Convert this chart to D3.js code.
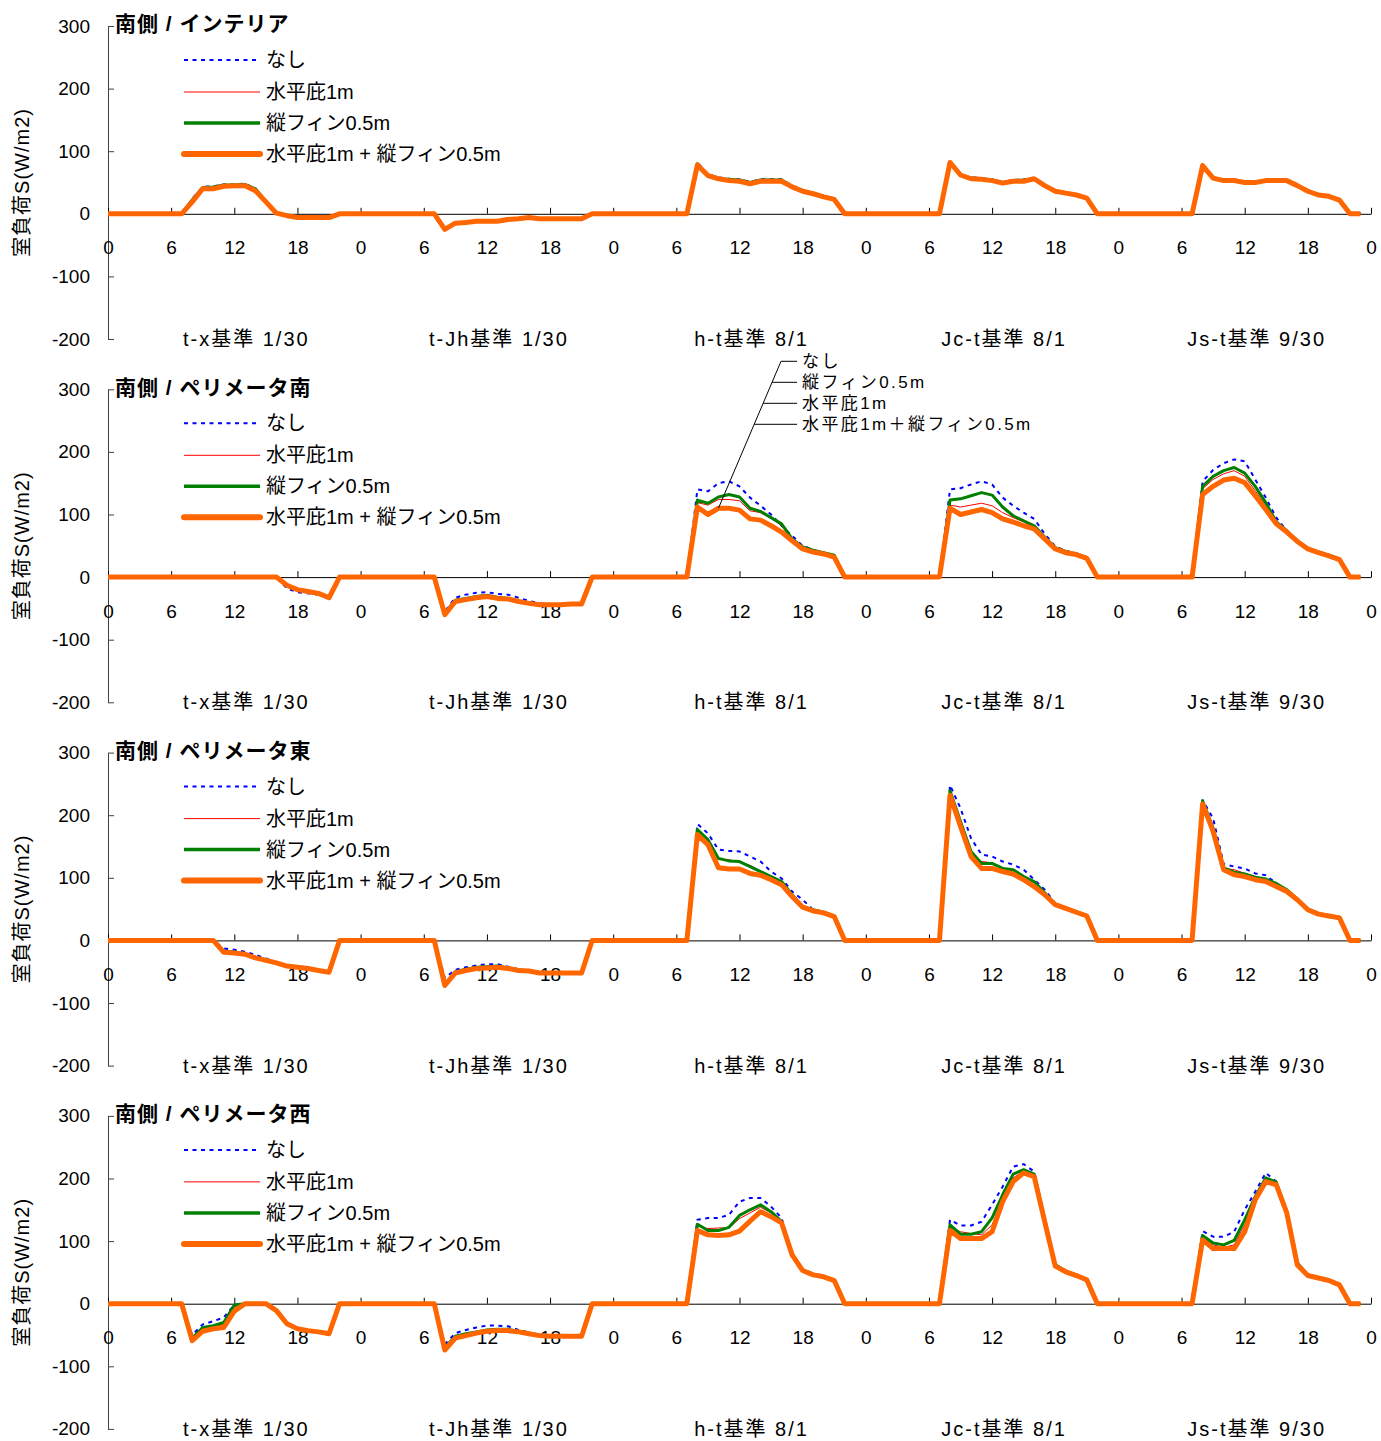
<!DOCTYPE html>
<html>
<head>
<meta charset="utf-8">
<script src="https://cdn.jsdelivr.net/npm/d3@7"></script>
<style>
  body { margin: 0; background: #fff; }
  svg { display: block; }
</style>
</head>
<body>
<svg id="chart" width="1381" height="1441"></svg>
<script>
// hourly values, 5 days x 24 h = 120 points per series
const dayLabels = ["t-x基準 1/30", "t-Jh基準 1/30", "h-t基準 8/1", "Jc-t基準 8/1", "Js-t基準 9/30"];
const yTicks = [300, 200, 100, 0, -100, -200];
const xTicks = [0, 6, 12, 18, 24, 30, 36, 42, 48, 54, 60, 66, 72, 78, 84, 90, 96, 102, 108, 114, 120];
const seriesNames = ["なし", "水平庇1m", "縦フィン0.5m", "水平庇1m + 縦フィン0.5m"];
const calloutNames = ["なし", "縦フィン0.5m", "水平庇1m", "水平庇1m＋縦フィン0.5m"];
const panelTitles = ["南側 / インテリア", "南側 / ペリメータ南", "南側 / ペリメータ東", "南側 / ペリメータ西"];

// 南側 / インテリア
const intNone = [
  0,0,0,0,0,0,0,0,24,43,44,47,47,48,41,20,1,-3,-6,-6,-6,-6,0,0,
  0,0,0,0,0,0,0,0,-24,-14,-13,-11,-11,-11,-7,-7,-5,-7,-7,-7,-7,-7,0,0,
  0,0,0,0,0,0,0,0,82,63,58,56,55,51,55,55,55,45,38,33,28,24,0,0,
  0,0,0,0,0,0,0,0,83,63,58,57,55,51,54,55,57,46,37,34,31,26,0,0,
  0,0,0,0,0,0,0,0,79,58,55,55,52,51,54,54,54,46,37,31,29,23,0,0];
const intEave = [
  0,0,0,0,0,0,0,0,21,41,42,45,46,47,39,20,1,-3,-6,-6,-6,-6,0,0,
  0,0,0,0,0,0,0,0,-25,-15,-14,-12,-12,-12,-8,-8,-6,-8,-8,-8,-8,-8,0,0,
  0,0,0,0,0,0,0,0,79,62,57,54,53,49,53,53,53,44,37,32,27,23,0,0,
  0,0,0,0,0,0,0,0,82,62,57,56,54,50,53,53,56,45,36,33,30,25,0,0,
  0,0,0,0,0,0,0,0,78,57,54,54,51,50,53,53,53,45,36,30,28,22,0,0];
const intFin = [
  0,0,0,0,0,0,0,0,22,42,43,46,46,47,40,20,1,-3,-6,-6,-6,-6,0,0,
  0,0,0,0,0,0,0,0,-25,-15,-14,-12,-12,-12,-8,-8,-6,-8,-8,-8,-8,-8,0,0,
  0,0,0,0,0,0,0,0,80,62,57,55,54,50,54,54,54,44,37,33,28,24,0,0,
  0,0,0,0,0,0,0,0,82,62,57,56,54,50,53,54,56,45,37,33,30,25,0,0,
  0,0,0,0,0,0,0,0,78,57,54,54,51,51,53,53,53,45,37,31,28,23,0,0];
const intBoth = [
  0,0,0,0,0,0,0,0,19,40,40,44,45,45,37,19,1,-3,-6,-6,-6,-6,0,0,
  0,0,0,0,0,0,0,0,-25,-15,-14,-12,-12,-12,-9,-8,-6,-8,-8,-8,-8,-8,0,0,
  0,0,0,0,0,0,0,0,78,61,56,53,52,48,52,52,52,43,36,32,27,23,0,0,
  0,0,0,0,0,0,0,0,82,62,56,55,53,49,52,52,56,45,36,33,30,25,0,0,
  0,0,0,0,0,0,0,0,77,57,53,53,50,50,53,53,53,45,36,30,28,22,0,0];

// 南側 / ペリメータ南
const southNone = [
  0,0,0,0,0,0,0,0,0,0,0,0,0,0,0,0,0,-18,-24,-26,-28,-33,0,0,
  0,0,0,0,0,0,0,0,-55,-33,-28,-25,-24,-27,-28,-33,-38,-42,-44,-44,-43,-43,0,0,
  0,0,0,0,0,0,0,0,140,137,150,153,145,127,114,100,82,66,50,44,38,35,0,0,
  0,0,0,0,0,0,0,0,140,142,148,153,148,127,114,103,93,69,49,42,38,32,0,0,
  0,0,0,0,0,0,0,0,153,171,182,188,185,156,127,95,74,58,46,40,35,29,0,0];
const southEave = [
  0,0,0,0,0,0,0,0,0,0,0,0,0,0,0,0,0,-14,-21,-24,-27,-33,0,0,
  0,0,0,0,0,0,0,0,-59,-38,-35,-32,-30,-33,-35,-38,-41,-43,-44,-44,-43,-43,0,0,
  0,0,0,0,0,0,0,0,119,115,124,124,122,106,103,94,82,60,47,42,38,34,0,0,
  0,0,0,0,0,0,0,0,115,112,115,118,114,103,95,88,80,63,46,40,37,31,0,0,
  0,0,0,0,0,0,0,0,141,156,165,170,161,138,114,87,73,57,45,40,35,29,0,0];
const southFin = [
  0,0,0,0,0,0,0,0,0,0,0,0,0,0,0,0,0,-14,-21,-24,-27,-33,0,0,
  0,0,0,0,0,0,0,0,-58,-37,-34,-31,-29,-32,-34,-38,-41,-43,-44,-44,-43,-43,0,0,
  0,0,0,0,0,0,0,0,123,118,128,132,128,110,105,95,85,61,48,43,39,35,0,0,
  0,0,0,0,0,0,0,0,123,125,130,135,131,112,98,90,82,64,47,41,37,31,0,0,
  0,0,0,0,0,0,0,0,145,161,170,175,166,145,119,88,74,58,46,40,35,29,0,0];
const southBoth = [
  0,0,0,0,0,0,0,0,0,0,0,0,0,0,0,0,0,-13,-20,-23,-26,-33,0,0,
  0,0,0,0,0,0,0,0,-60,-39,-36,-33,-31,-34,-35,-39,-42,-44,-44,-44,-43,-43,0,0,
  0,0,0,0,0,0,0,0,112,100,110,110,107,93,91,82,72,58,45,40,37,32,0,0,
  0,0,0,0,0,0,0,0,110,100,104,108,103,93,88,82,77,61,45,39,36,30,0,0,
  0,0,0,0,0,0,0,0,132,145,155,158,151,130,108,85,72,57,45,39,34,28,0,0];

// 南側 / ペリメータ東
const eastNone = [
  0,0,0,0,0,0,0,0,0,0,0,-13,-15,-18,-23,-29,-35,-41,-43,-45,-48,-51,0,0,
  0,0,0,0,0,0,0,0,-60,-47,-43,-40,-38,-38,-42,-46,-48,-51,-52,-52,-52,-52,0,0,
  0,0,0,0,0,0,0,0,186,171,145,143,142,134,126,110,99,78,65,49,45,39,0,0,
  0,0,0,0,0,0,0,0,248,211,163,137,134,126,121,113,97,81,59,52,46,40,0,0,
  0,0,0,0,0,0,0,0,224,195,122,118,115,107,104,91,81,67,50,43,40,37,0,0];
const eastEave = [
  0,0,0,0,0,0,0,0,0,0,0,-17,-19,-21,-27,-31,-36,-41,-43,-45,-48,-51,0,0,
  0,0,0,0,0,0,0,0,-70,-50,-46,-43,-42,-41,-44,-47,-49,-52,-52,-52,-52,-52,0,0,
  0,0,0,0,0,0,0,0,174,159,129,129,125,120,111,101,93,72,54,48,45,39,0,0,
  0,0,0,0,0,0,0,0,236,187,140,126,124,116,113,101,92,75,58,51,46,40,0,0,
  0,0,0,0,0,0,0,0,222,177,115,113,107,101,97,90,81,66,50,43,40,37,0,0];
const eastFin = [
  0,0,0,0,0,0,0,0,0,0,0,-17,-19,-21,-27,-31,-36,-41,-43,-45,-48,-51,0,0,
  0,0,0,0,0,0,0,0,-70,-50,-46,-43,-42,-41,-44,-47,-49,-52,-52,-52,-52,-52,0,0,
  0,0,0,0,0,0,0,0,177,161,131,127,126,118,110,102,94,73,54,49,45,39,0,0,
  0,0,0,0,0,0,0,0,239,190,142,123,123,115,113,102,94,76,58,52,46,40,0,0,
  0,0,0,0,0,0,0,0,223,179,116,109,106,101,98,91,81,66,50,43,40,37,0,0];
const eastBoth = [
  0,0,0,0,0,0,0,0,0,0,0,-19,-20,-22,-28,-32,-36,-41,-43,-45,-48,-51,0,0,
  0,0,0,0,0,0,0,0,-72,-52,-48,-45,-44,-43,-45,-48,-49,-52,-52,-52,-52,-52,0,0,
  0,0,0,0,0,0,0,0,169,153,116,114,114,107,104,97,89,70,53,47,44,38,0,0,
  0,0,0,0,0,0,0,0,232,182,134,115,115,110,106,97,86,73,57,51,45,39,0,0,
  0,0,0,0,0,0,0,0,218,174,113,105,102,97,94,86,78,65,49,42,39,36,0,0];

// 南側 / ペリメータ西
const westNone = [
  0,0,0,0,0,0,0,0,-50,-33,-28,-22,-2,0,0,0,-9,-31,-40,-43,-45,-48,0,0,
  0,0,0,0,0,0,0,0,-65,-47,-42,-38,-35,-35,-36,-42,-46,-50,-52,-52,-52,-52,0,0,
  0,0,0,0,0,0,0,0,134,137,137,142,163,169,169,155,137,80,55,48,44,38,0,0,
  0,0,0,0,0,0,0,0,134,125,125,131,158,187,219,223,211,138,63,53,46,39,0,0,
  0,0,0,0,0,0,0,0,116,107,107,115,150,179,209,195,147,66,46,42,38,31,0,0];
const westEave = [
  0,0,0,0,0,0,0,0,-56,-40,-37,-33,-5,0,0,0,-10,-31,-40,-43,-45,-48,0,0,
  0,0,0,0,0,0,0,0,-71,-53,-49,-46,-43,-42,-42,-44,-47,-50,-52,-52,-52,-52,0,0,
  0,0,0,0,0,0,0,0,124,120,121,121,136,145,154,145,130,79,54,47,44,38,0,0,
  0,0,0,0,0,0,0,0,121,115,112,110,126,169,201,212,205,133,61,52,46,39,0,0,
  0,0,0,0,0,0,0,0,106,94,90,94,126,169,198,192,146,64,46,42,38,31,0,0];
const westFin = [
  0,0,0,0,0,0,0,0,-55,-38,-35,-30,-2,0,0,0,-10,-31,-40,-43,-45,-48,0,0,
  0,0,0,0,0,0,0,0,-70,-52,-48,-45,-42,-41,-41,-44,-47,-50,-52,-52,-52,-52,0,0,
  0,0,0,0,0,0,0,0,127,117,117,122,141,150,158,147,131,79,54,47,44,38,0,0,
  0,0,0,0,0,0,0,0,126,111,111,115,137,174,207,214,207,134,62,52,46,39,0,0,
  0,0,0,0,0,0,0,0,109,97,94,101,134,171,201,194,147,65,46,42,38,31,0,0];
const westBoth = [
  0,0,0,0,0,0,0,0,-59,-44,-40,-38,-12,0,0,0,-11,-32,-40,-43,-45,-48,0,0,
  0,0,0,0,0,0,0,0,-74,-55,-51,-47,-44,-43,-43,-45,-48,-51,-52,-52,-52,-52,0,0,
  0,0,0,0,0,0,0,0,117,110,109,110,116,132,147,139,129,78,53,46,43,37,0,0,
  0,0,0,0,0,0,0,0,117,104,104,104,115,163,195,209,203,131,60,51,45,38,0,0,
  0,0,0,0,0,0,0,0,102,88,88,88,115,166,195,190,145,62,45,41,37,30,0,0];

const panelSeries = [
  [intNone, intEave, intFin, intBoth],
  [southNone, southEave, southFin, southBoth],
  [eastNone, eastEave, eastFin, eastBoth],
  [westNone, westEave, westFin, westBoth]
];

const seriesColors = ["#0000ff", "#ff0000", "#008000", "#ff6600"];
const seriesWidths = [2, 1, 3, 5];
const seriesDash = ["4,4.5", null, null, null];
const legendWidths = [2, 1, 3.5, 6];

const width = 1381, height = 1441;
const font = '"Liberation Sans", Arial, "Noto Sans CJK JP", sans-serif';
const svg = d3.select("#chart");
svg.append("rect").attr("width", width).attr("height", height).attr("fill", "#fff");

const x = d3.scaleLinear().domain([0, 120]).range([108, 1371]);
const panelTop0 = 26, panelStep = 363.3, panelH = 313;
const legendOffsets = [34, 66, 97, 128];

panelSeries.forEach((series, pi) => {
  const top = panelTop0 + pi * panelStep;
  const y = d3.scaleLinear().domain([-200, 300]).range([top + panelH, top]);
  const g = svg.append("g").attr("font-family", font);

  // y axis, ticks pointing inward
  const ya = g.append("g")
    .attr("transform", `translate(${x(0)},0)`)
    .call(d3.axisLeft(y).tickValues(yTicks).tickSizeInner(-6).tickSizeOuter(0)
      .tickPadding(18).tickFormat((d) => String(d)));
  ya.select(".domain").attr("stroke", "#404040");
  ya.selectAll(".tick line").attr("stroke", "#404040");
  ya.selectAll("text").attr("font-size", 19).attr("font-family", font).attr("fill", "#000");

  // x axis along zero line
  const xa = g.append("g")
    .attr("transform", `translate(0,${y(0)})`)
    .call(d3.axisBottom(x).tickValues(xTicks).tickSizeInner(-6).tickSizeOuter(0)
      .tickPadding(27).tickFormat((d) => d % 24));
  xa.select(".domain").attr("stroke", "#000");
  xa.selectAll(".tick line").attr("stroke", "#000");
  xa.selectAll("text").attr("font-size", 19).attr("font-family", font).attr("fill", "#000");

  // day labels
  g.selectAll(".day")
    .data(dayLabels)
    .join("text")
    .attr("class", "day")
    .attr("x", (d, i) => x(i * 24 + 12) + 12)
    .attr("y", y(-200))
    .attr("dy", "0.35em")
    .attr("text-anchor", "middle")
    .attr("font-size", 20)
    .attr("letter-spacing", "2px")
    .text((d) => d);

  // y title
  g.append("text")
    .attr("transform", `translate(22,${top + panelH / 2}) rotate(-90)`)
    .attr("text-anchor", "middle")
    .attr("dy", "0.35em")
    .attr("font-size", 20)
    .attr("letter-spacing", "1px")
    .text("室負荷S(W/m2)");

  // panel title
  g.append("text")
    .attr("x", 115)
    .attr("y", top - 2)
    .attr("dy", "0.35em")
    .attr("font-size", 21)
    .attr("font-weight", "bold")
    .attr("letter-spacing", "1px")
    .text(panelTitles[pi]);

  // series lines
  const line = d3.line().x((d, i) => x(i)).y((d) => y(d));
  g.selectAll(".series")
    .data(series)
    .join("path")
    .attr("class", "series")
    .attr("fill", "none")
    .attr("stroke", (d, i) => seriesColors[i])
    .attr("stroke-width", (d, i) => seriesWidths[i])
    .attr("stroke-dasharray", (d, i) => seriesDash[i])
    .attr("stroke-linejoin", "round")
    .attr("d", line);

  // legend
  const lg = g.selectAll(".legend")
    .data(seriesNames)
    .join("g")
    .attr("class", "legend")
    .attr("transform", (d, i) => `translate(0,${top + legendOffsets[i]})`);
  lg.append("line")
    .attr("x1", 184).attr("x2", 260)
    .attr("stroke", (d, i) => seriesColors[i])
    .attr("stroke-width", (d, i) => legendWidths[i])
    .attr("stroke-dasharray", (d, i) => seriesDash[i])
    .attr("stroke-linecap", (d, i) => (i === 3 ? "round" : "butt"));
  lg.append("text")
    .attr("x", 266)
    .attr("dy", "0.35em")
    .attr("font-size", 20)
    .text((d) => d);

  // callout labels on ペリメータ南, pointing at h-t day 10h
  if (pi === 1) {
    const idx = 58;
    const target = [x(idx), y(southBoth[idx])];
    const labelY = [-28, -7, 14, 35].map((v) => top + v);
    const topPt = [781, labelY[0]];
    const bendX = (yy) => topPt[0] + (target[0] - topPt[0]) * (yy - topPt[1]) / (target[1] - topPt[1]);
    const cg = g.append("g");
    cg.append("line")
      .attr("x1", topPt[0]).attr("y1", topPt[1])
      .attr("x2", target[0]).attr("y2", target[1])
      .attr("stroke", "#000").attr("stroke-width", 1);
    cg.selectAll(".lead")
      .data(labelY)
      .join("line")
      .attr("class", "lead")
      .attr("x1", (d) => bendX(d)).attr("x2", 797)
      .attr("y1", (d) => d).attr("y2", (d) => d)
      .attr("stroke", "#000").attr("stroke-width", 1);
    cg.selectAll(".clabel")
      .data(calloutNames)
      .join("text")
      .attr("class", "clabel")
      .attr("x", 802)
      .attr("y", (d, i) => labelY[i])
      .attr("dy", "0.35em")
      .attr("font-family", '"Liberation Sans", "Noto Sans CJK JP", sans-serif')
      .attr("font-size", 17)
      .attr("letter-spacing", "2.4px")
      .text((d) => d);
  }
});
</script>
</body>
</html>
